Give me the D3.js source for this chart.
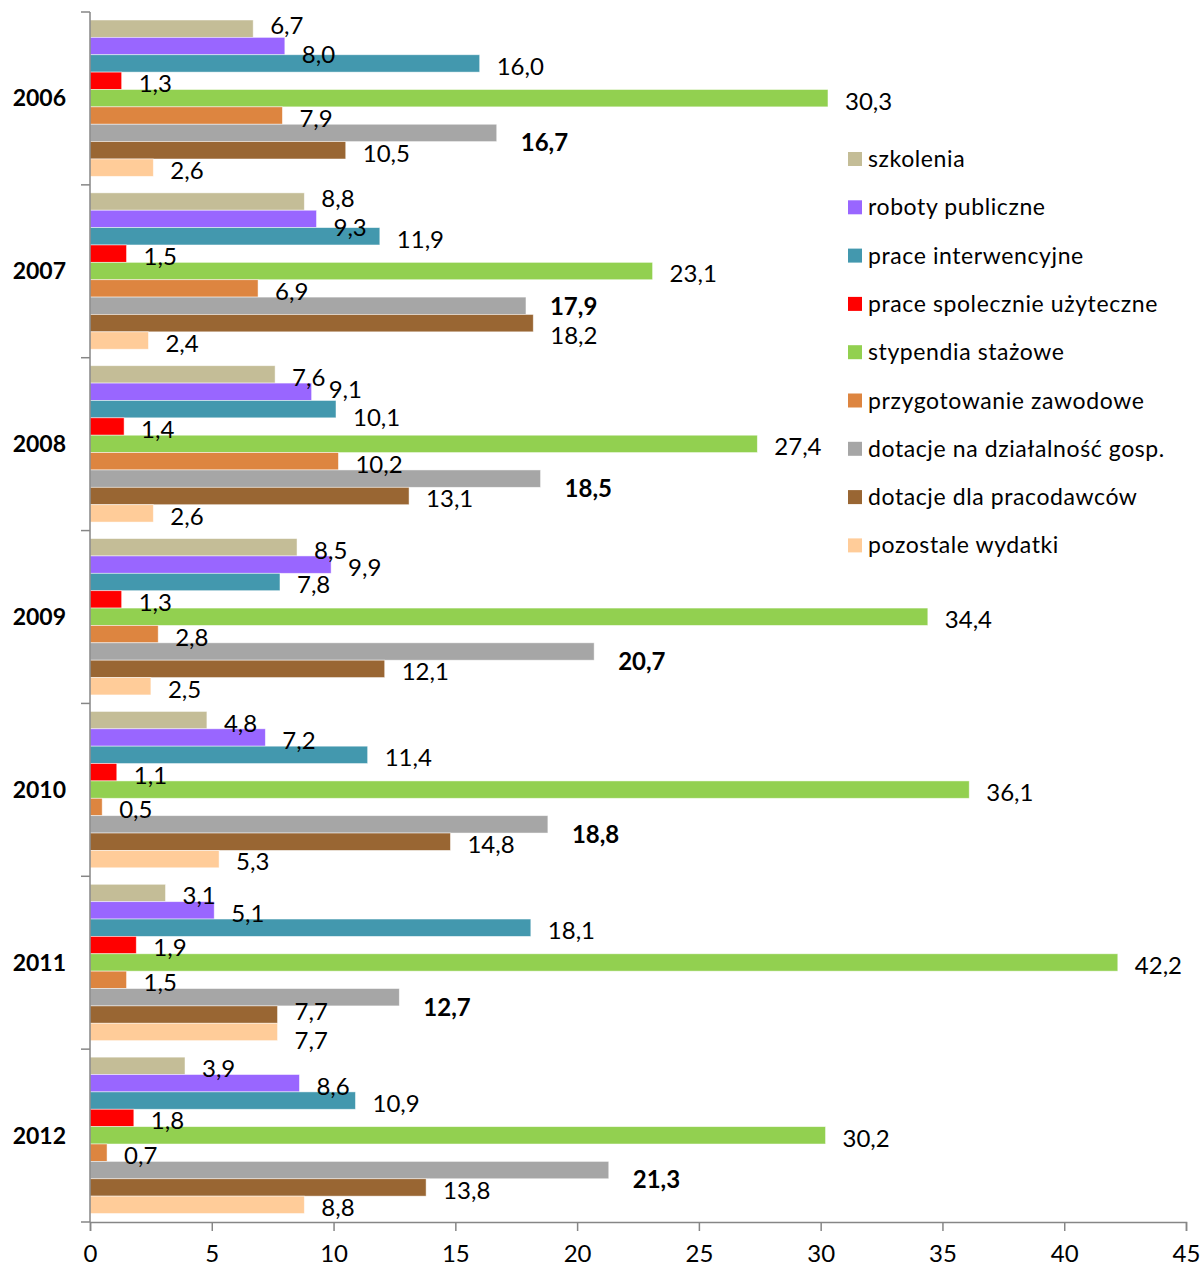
<!DOCTYPE html>
<html>
<head>
<meta charset="utf-8">
<script src="https://cdn.jsdelivr.net/npm/d3@7"></script>
<style>
  body { margin: 0; background: #fff; }
  svg text { font-family: Lato, "Open Sans", sans-serif; fill: #000; }
</style>
</head>
<body>
<div class="chart"></div>
<script>
// data
var years = ["2006", "2007", "2008", "2009", "2010", "2011", "2012"];
var seriesNames = ["szkolenia", "roboty publiczne", "prace interwencyjne",
  "prace spolecznie użyteczne", "stypendia stażowe", "przygotowanie zawodowe",
  "dotacje na działalność gosp.", "dotacje dla pracodawców", "pozostale wydatki"];
var szkolenia = [6.7, 8.8, 7.6, 8.5, 4.8, 3.1, 3.9];
var roboty = [8.0, 9.3, 9.1, 9.9, 7.2, 5.1, 8.6];
var interwencyjne = [16.0, 11.9, 10.1, 7.8, 11.4, 18.1, 10.9];
var spoleczne = [1.3, 1.5, 1.4, 1.3, 1.1, 1.9, 1.8];
var stazowe = [30.3, 23.1, 27.4, 34.4, 36.1, 42.2, 30.2];
var przygotowanie = [7.9, 6.9, 10.2, 2.8, 0.5, 1.5, 0.7];
var dotacjeGosp = [16.7, 17.9, 18.5, 20.7, 18.8, 12.7, 21.3];
var dotacjePrac = [10.5, 18.2, 13.1, 12.1, 14.8, 7.7, 13.8];
var pozostale = [2.6, 2.4, 2.6, 2.5, 5.3, 7.7, 8.8];
var xTicks = [0, 5, 10, 15, 20, 25, 30, 35, 40, 45];

var allSeries = [szkolenia, roboty, interwencyjne, spoleczne, stazowe,
  przygotowanie, dotacjeGosp, dotacjePrac, pozostale];
var colors = ["#C4BD97", "#9966FF", "#4398AE", "#FF0000", "#92D050",
  "#DD8540", "#A6A6A6", "#996633", "#FFCC99"];

var W = 1200, H = 1267;
var plotLeft = 90, plotRight = 1186, plotTop = 12, plotBottom = 1222;

var svg = d3.select(".chart").append("svg")
  .attr("width", W)
  .attr("height", H);

var x = d3.scaleLinear().domain([0, 45]).range([plotLeft, plotRight]);
var y0 = d3.scaleBand().domain(years).range([plotTop, plotBottom]);
var y1 = d3.scaleBand().domain(d3.range(seriesNames.length))
  .range([8, y0.bandwidth() - 8.5]);

var fmt = function(v) { return d3.format(".1f")(v).replace(".", ","); };

// flatten to one record per bar
var rows = [];
years.forEach(function(yr, i) {
  allSeries.forEach(function(s, j) {
    rows.push({year: yr, s: j, v: s[i]});
  });
});

svg.selectAll("rect.bar").data(rows)
  .enter().append("rect")
  .attr("class", "bar")
  .attr("x", x(0))
  .attr("y", function(d) { return y0(d.year) + y1(d.s); })
  .attr("width", function(d) { return x(d.v) - x(0); })
  .attr("height", y1.bandwidth())
  .attr("fill", function(d) { return colors[d.s]; })
  .attr("stroke", "rgba(255,255,255,0.6)")
  .attr("stroke-width", 0.8);

// label positions, start at bar end, then nudge apart where they collide
rows.forEach(function(d) {
  d.lx = x(d.v) + (d.s == 6 ? 24 : 17);
  d.ly = y0(d.year) + y1(d.s) + y1.bandwidth() / 2 + (d.s == 6 ? 10 : 3);
});

var labels = svg.selectAll("text.lbl").data(rows)
  .enter().append("text")
  .attr("class", "lbl")
  .attr("x", function(d) { return d.lx; })
  .attr("y", function(d) { return d.ly; })
  .attr("dy", "0.35em")
  .style("font-size", "24px")
  .style("font-weight", function(d) { return d.s == 6 ? "bold" : "normal"; })
  .text(function(d) { return fmt(d.v); });

labels.each(function(d) { d.w = this.getComputedTextLength(); });

var lh = 28;
for (var it = 0; it < 80; it++) {
  for (var a = 0; a < rows.length; a++) {
    for (var b = a + 1; b < rows.length; b++) {
      var p = rows[a], q = rows[b];
      if (p.year != q.year) continue;
      var ox = Math.min(p.lx + p.w, q.lx + q.w) - Math.max(p.lx, q.lx);
      var oy = lh - Math.abs(p.ly - q.ly);
      if (ox > 0 && oy > 0) {
        var push = oy / 2 + 0.3;
        if (p.ly <= q.ly) { p.ly -= push; q.ly += push; }
        else { p.ly += push; q.ly -= push; }
      }
    }
  }
}
labels.attr("y", function(d) { return d.ly; });

// y axis: line with ticks at category boundaries
var axisColor = "#868686";
svg.append("line")
  .attr("x1", plotLeft).attr("x2", plotLeft)
  .attr("y1", plotTop).attr("y2", plotBottom)
  .attr("stroke", axisColor).attr("stroke-width", 1.5);
var bounds = years.map(function(yr) { return y0(yr); }).concat([plotBottom]);
svg.selectAll("line.ytick").data(bounds)
  .enter().append("line")
  .attr("class", "ytick")
  .attr("x1", plotLeft - 9).attr("x2", plotLeft)
  .attr("y1", function(d) { return d; }).attr("y2", function(d) { return d; })
  .attr("stroke", axisColor).attr("stroke-width", 1.5);

svg.selectAll("text.year").data(years)
  .enter().append("text")
  .attr("class", "year")
  .attr("x", 66)
  .attr("y", function(d) { return y0(d) + y0.bandwidth() / 2; })
  .attr("dy", "0.35em")
  .attr("text-anchor", "end")
  .style("font-size", "23px")
  .style("font-weight", "bold")
  .text(function(d) { return d; });

// x axis
var xAxis = svg.append("g")
  .attr("transform", "translate(0," + plotBottom + ")")
  .call(d3.axisBottom(x).tickValues(xTicks).tickSize(9).tickPadding(14)
    .tickFormat(function(d) { return d; }));
xAxis.select(".domain").attr("stroke", axisColor).attr("stroke-width", 1.5);
xAxis.selectAll(".tick line").attr("stroke", axisColor).attr("stroke-width", 1.5);
xAxis.selectAll(".tick text")
  .style("font-size", "24px")
  .style("font-family", "Lato, 'Open Sans', sans-serif")
  .attr("fill", "#000");

// legend
var legend = svg.append("g").attr("transform", "translate(848,159)");
var items = legend.selectAll("g").data(seriesNames)
  .enter().append("g")
  .attr("transform", function(d, i) { return "translate(0," + (i * 48.3) + ")"; });
items.append("rect")
  .attr("x", 0).attr("y", -7)
  .attr("width", 14).attr("height", 14)
  .attr("fill", function(d, i) { return colors[i]; });
items.append("text")
  .attr("x", 20).attr("y", 0)
  .attr("dy", "0.35em")
  .style("font-size", "23px")
  .style("letter-spacing", "0.6px")
  .text(function(d) { return d; });
</script>
</body>
</html>
